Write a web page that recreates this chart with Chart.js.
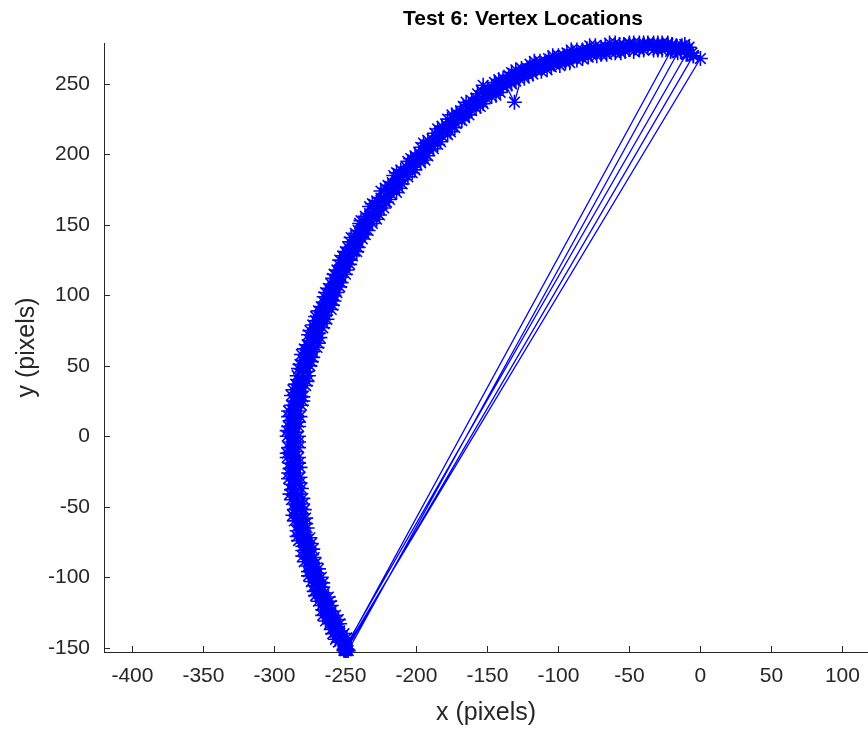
<!DOCTYPE html>
<html>
<head>
<meta charset="utf-8">
<title>Test 6: Vertex Locations</title>
<script src="https://cdn.jsdelivr.net/npm/chart.js@4.4.1/dist/chart.umd.min.js"></script>
<style>
  html, body { margin: 0; padding: 0; background: #ffffff; overflow: hidden; }
  #plot { display: block; }
</style>
</head>
<body>
<canvas id="plot" width="868" height="730"></canvas>
<script>
// Tracked vertex positions in pixels, one pair of arrays per sweep along the contour,
// listed in the order they were recorded.
const pass01X = [-6, -14, -27, -40, -53, -66, -79, -92, -105, -118, -130, -141, -153, -163, -173, -183, -192, -201, -210, -219, -226, -234, -241, -247, -253, -258, -263, -268, -273, -276, -280, -282, -283, -283, -282, -280, -278, -275, -272, -267, -262, -257, -251, -250];
const pass01Y = [272, 273, 274, 274, 273, 271, 269, 265, 262, 257, 252, 244, 236, 228, 219, 209, 199, 189, 179, 168, 157, 146, 134, 122, 109, 96, 83, 70, 56, 43, 28, 14, 0, -15, -29, -44, -58, -72, -86, -100, -114, -127, -140, -152];

const pass02X = [-249, -255, -261, -267, -272, -276, -280, -283, -286, -288, -289, -289, -289, -286, -283, -280, -275, -271, -265, -260, -254, -248, -241, -233, -225, -217, -207, -198, -189, -179, -169, -158, -147, -135, -122, -109, -96, -83, -70, -57, -43, -30, -21];
const pass02Y = [-151, -146, -133, -120, -106, -92, -78, -63, -48, -34, -19, -4, 11, 25, 40, 54, 68, 82, 95, 108, 121, 134, 146, 158, 169, 180, 191, 201, 211, 221, 231, 240, 248, 256, 261, 266, 270, 274, 276, 278, 279, 279, 273];

const pass03X = [-250, -254, -260, -265, -270, -274, -278, -281, -283, -284, -285, -285, -283, -281, -277, -273, -269, -264, -258, -253, -247, -241, -234, -226, -218, -210, -200, -191, -182, -172, -161, -151, -139, -128, -116, -103, -90, -77, -64, -50, -37, -23, -16];
const pass03Y = [-150, -138, -124, -111, -97, -84, -70, -55, -41, -26, -11, 3, 18, 32, 46, 60, 73, 86, 100, 113, 125, 138, 150, 161, 172, 182, 193, 203, 213, 222, 231, 240, 248, 254, 260, 264, 268, 271, 273, 275, 276, 276, 272];

const pass04X = [-248, -257, -264, -269, -274, -279, -283, -286, -288, -290, -291, -291, -290, -288, -284, -281, -276, -271, -265, -259, -254, -247, -240, -233, -225, -216, -206, -197, -187, -178, -167, -157, -145, -133, -120, -107, -94, -80, -67, -54, -40, -27, -13, -10];
const pass04Y = [-152, -144, -131, -117, -103, -89, -74, -60, -45, -30, -15, 0, 14, 29, 43, 58, 72, 85, 99, 112, 125, 138, 151, 163, 174, 185, 195, 205, 215, 225, 234, 243, 251, 258, 264, 268, 272, 275, 277, 278, 279, 279, 277, 271];

const pass05X = [-251, -254, -260, -266, -269, -273, -277, -279, -281, -282, -283, -283, -281, -278, -275, -270, -266, -260, -256, -250, -245, -238, -231, -223, -214, -206, -197, -188, -178, -168, -158, -147, -136, -124, -112, -99, -87, -73, -60, -47, -33, -20, -9, -5];
const pass05Y = [-151, -133, -120, -107, -94, -80, -65, -52, -37, -22, -8, 7, 22, 36, 50, 63, 77, 90, 102, 115, 128, 140, 151, 162, 173, 184, 194, 204, 214, 224, 233, 241, 249, 254, 259, 263, 267, 270, 272, 273, 274, 274, 271, 270];

const pass06X = [-8, -20, -33, -47, -60, -74, -87, -100, -113, -126, -139, -150, -161, -172, -182, -192, -201, -211, -220, -228, -236, -243, -250, -256, -262, -267, -273, -277, -282, -285, -288, -290, -290, -289, -288, -286, -284, -280, -276, -272, -266, -260, -251];
const pass06Y = [276, 278, 279, 279, 279, 277, 274, 270, 266, 261, 254, 247, 238, 229, 220, 210, 199, 189, 178, 167, 156, 144, 131, 118, 105, 92, 79, 65, 51, 37, 22, 7, -8, -23, -38, -52, -67, -81, -96, -110, -123, -137, -152];

const pass07X = [-249, -254, -260, -265, -270, -275, -278, -281, -284, -285, -286, -286, -285, -283, -280, -276, -271, -266, -261, -256, -250, -244, -237, -229, -221, -212, -203, -194, -185, -175, -165, -154, -153, -143, -131, -119, -106, -93, -80, -67, -54, -40, -27, -14, 0];
const pass07Y = [-152, -141, -128, -115, -101, -87, -73, -59, -44, -30, -15, 0, 14, 29, 43, 57, 71, 84, 97, 110, 123, 135, 147, 159, 170, 181, 191, 201, 211, 221, 230, 239, 249, 247, 254, 260, 265, 269, 272, 274, 276, 277, 277, 276, 268];

const pass08X = [-250, -258, -264, -269, -274, -278, -281, -284, -286, -287, -288, -288, -286, -283, -279, -275, -270, -265, -260, -254, -248, -241, -234, -226, -218, -209, -200, -190, -181, -171, -160, -149, -138, -131, -125, -113, -100, -87, -74, -60, -47, -33, -20, -10];
const pass08Y = [-151, -136, -123, -109, -95, -81, -66, -52, -37, -22, -8, 7, 22, 36, 50, 64, 78, 91, 104, 117, 130, 142, 154, 166, 177, 187, 197, 207, 217, 227, 236, 244, 251, 237, 258, 263, 268, 271, 274, 276, 277, 278, 278, 274];

const pass09X = [-17, -30, -43, -57, -70, -83, -96, -109, -122, -134, -146, -157, -167, -178, -187, -196, -206, -215, -223, -231, -238, -245, -251, -257, -262, -268, -272, -277, -280, -283, -286, -286, -286, -285, -283, -280, -277, -273, -269, -264, -258, -252, -249];
const pass09Y = [277, 277, 277, 275, 273, 271, 267, 263, 258, 253, 245, 237, 228, 219, 209, 198, 189, 178, 167, 156, 144, 132, 120, 107, 94, 81, 67, 54, 40, 25, 11, -4, -19, -33, -48, -62, -77, -91, -105, -118, -132, -145, -151];

const pass10X = [-250, -249, -255, -261, -266, -271, -274, -278, -280, -282, -283, -283, -283, -280, -277, -274, -269, -265, -259, -254, -249, -242, -236, -228, -221, -212, -203, -194, -185, -176, -166, -155, -144, -133, -121, -108, -95, -83, -70, -56, -43, -30, -17, -5];
const pass10Y = [-152, -143, -130, -117, -104, -90, -76, -62, -48, -33, -19, -4, 10, 25, 39, 53, 66, 80, 93, 106, 118, 131, 143, 154, 166, 176, 187, 196, 207, 216, 226, 234, 242, 250, 256, 260, 265, 268, 271, 272, 274, 274, 274, 270];

const pass11X = [-249, -259, -266, -271, -276, -280, -284, -287, -289, -290, -291, -291, -290, -287, -283, -279, -275, -269, -264, -258, -252, -246, -239, -231, -222, -214, -204, -195, -185, -175, -165, -154, -142, -130, -117, -104, -91, -78, -64, -50, -37, -23, -11];
const pass11Y = [-151, -140, -127, -113, -99, -85, -71, -56, -41, -26, -12, 4, 18, 33, 48, 62, 75, 89, 102, 115, 128, 141, 153, 165, 176, 187, 197, 208, 218, 228, 237, 245, 253, 260, 266, 270, 274, 277, 279, 279, 279, 279, 278];

const pass12X = [-11, -23, -37, -50, -64, -77, -90, -103, -116, -129, -141, -152, -163, -174, -184, -193, -202, -212, -220, -228, -236, -243, -250, -256, -261, -267, -272, -277, -280, -284, -287, -288, -288, -287, -286, -284, -281, -277, -273, -268, -263, -257, -250];
const pass12Y = [276, 278, 278, 278, 276, 274, 271, 267, 263, 257, 251, 243, 234, 225, 215, 205, 195, 185, 174, 163, 151, 139, 127, 114, 101, 88, 75, 61, 47, 33, 18, 3, -11, -26, -41, -56, -70, -84, -98, -112, -126, -139, -151];

// Axis ticks and limits
const xTickValues = [-400, -350, -300, -250, -200, -150, -100, -50, 0, 50, 100];
const yTickValues = [-150, -100, -50, 0, 50, 100, 150, 200, 250];
const xLimits = [-420, 118];
const yLimits = [-153, 279];

// All sweeps joined in recording order into one marker-and-line trace
const passes = [
  [pass01X, pass01Y], [pass02X, pass02Y], [pass03X, pass03Y], [pass04X, pass04Y],
  [pass05X, pass05Y], [pass06X, pass06Y], [pass07X, pass07Y], [pass08X, pass08Y],
  [pass09X, pass09Y], [pass10X, pass10Y], [pass11X, pass11Y], [pass12X, pass12Y]
];
const vertexPoints = [];
for (const [xs, ys] of passes) {
  xs.forEach((x, i) => vertexPoints.push({ x: x, y: ys[i] }));
}

const AXIS_COLOR = '#262626';
const FONT_FAMILY = '"Liberation Sans", Arial, Helvetica, sans-serif';

// Short tick marks pointing into the plot area
const inwardTicks = {
  id: 'inwardTicks',
  beforeDatasetsDraw(chart) {
    const { ctx, chartArea, scales } = chart;
    const len = 6;
    ctx.save();
    ctx.strokeStyle = AXIS_COLOR;
    ctx.lineWidth = 1;
    ctx.beginPath();
    scales.x.ticks.forEach(t => {
      const px = Math.round(scales.x.getPixelForValue(t.value)) + 0.5;
      ctx.moveTo(px, chartArea.bottom);
      ctx.lineTo(px, chartArea.bottom - len);
    });
    scales.y.ticks.forEach(t => {
      const py = Math.round(scales.y.getPixelForValue(t.value)) + 0.5;
      ctx.moveTo(chartArea.left, py);
      ctx.lineTo(chartArea.left + len, py);
    });
    ctx.stroke();
    ctx.restore();
  }
};

// The axes box runs on past the right edge of the frame; centre the title over the whole box
const AXES_BOX_OVERHANG = 74;
const centerTitleOnAxes = {
  id: 'centerTitleOnAxes',
  afterLayout(chart) {
    const t = chart.titleBlock;
    if (t) {
      t.left = chart.chartArea.left;
      t.right = chart.chartArea.right + AXES_BOX_OVERHANG;
    }
  }
};

new Chart(document.getElementById('plot'), {
  type: 'scatter',
  data: {
    datasets: [{
      data: vertexPoints,
      showLine: true,
      tension: 0,
      borderColor: '#0000ff',
      borderWidth: 1.3,
      pointStyle: 'star',
      pointRadius: 7.5,
      pointHoverRadius: 7.5,
      pointBorderColor: '#0000ff',
      pointBackgroundColor: '#0000ff',
      pointBorderWidth: 1.6,
      clip: false
    }]
  },
  options: {
    responsive: false,
    animation: false,
    devicePixelRatio: 1,
    events: [],
    layout: { padding: 0, autoPadding: false },
    plugins: {
      legend: { display: false },
      tooltip: { enabled: false },
      title: {
        display: true,
        text: 'Test 6: Vertex Locations',
        color: '#000000',
        font: { family: FONT_FAMILY, size: 21, weight: 'bold', lineHeight: 1.2 },
        padding: { top: 7, bottom: 10.8 }
      }
    },
    scales: {
      x: {
        type: 'linear',
        min: xLimits[0],
        max: xLimits[1],
        afterBuildTicks: s => { s.ticks = xTickValues.map(v => ({ value: v })); },
        afterFit: s => { s.height = 78; s.paddingLeft = 0; s.paddingRight = 0; },
        grid: { display: false, drawTicks: false },
        border: { display: true, color: AXIS_COLOR, width: 1 },
        ticks: {
          color: AXIS_COLOR,
          font: { family: FONT_FAMILY, size: 21, lineHeight: 1.2 },
          padding: 12,
          maxRotation: 0,
          autoSkip: false
        },
        title: {
          display: true,
          text: 'x (pixels)',
          color: AXIS_COLOR,
          font: { family: FONT_FAMILY, size: 25, lineHeight: 1.2 },
          padding: { top: 0, bottom: 2 }
        }
      },
      y: {
        type: 'linear',
        min: yLimits[0],
        max: yLimits[1],
        afterBuildTicks: s => { s.ticks = yTickValues.map(v => ({ value: v })); },
        afterFit: s => { s.width = 104; s.paddingTop = 0; s.paddingBottom = 0; },
        grid: { display: false, drawTicks: false },
        border: { display: true, color: AXIS_COLOR, width: 1 },
        ticks: {
          color: AXIS_COLOR,
          font: { family: FONT_FAMILY, size: 21, lineHeight: 1.2 },
          padding: 14,
          autoSkip: false
        },
        title: {
          display: true,
          text: 'y (pixels)',
          color: AXIS_COLOR,
          font: { family: FONT_FAMILY, size: 25, lineHeight: 1.2 },
          padding: { top: 12, bottom: 0 }
        }
      }
    }
  },
  plugins: [inwardTicks, centerTitleOnAxes]
});
</script>
</body>
</html>
